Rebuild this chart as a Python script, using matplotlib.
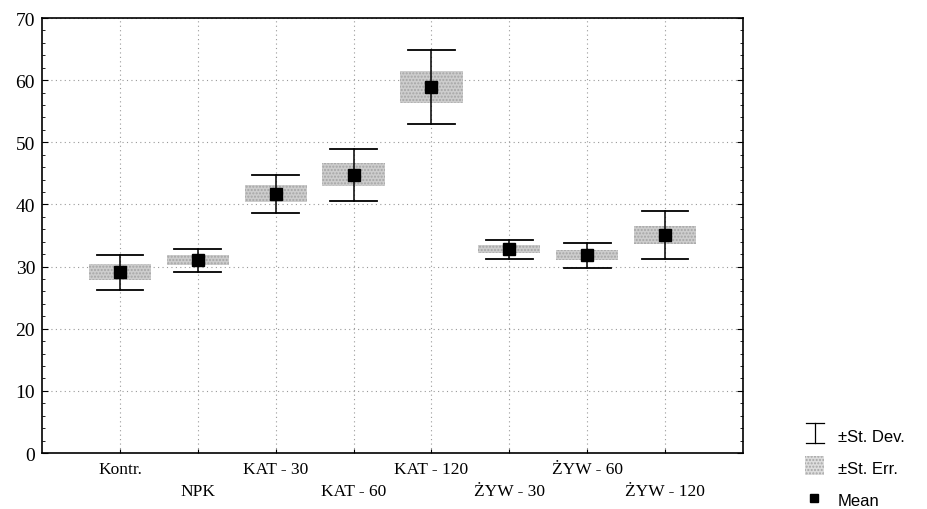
import matplotlib
matplotlib.use("Agg")
import matplotlib.pyplot as plt
from matplotlib.patches import Rectangle
from matplotlib.ticker import MultipleLocator

# group labels and values
groups = ["Kontr.", "NPK", "KAT - 30", "KAT - 60", "KAT - 120",
          "ŻYW - 30", "ŻYW - 60", "ŻYW - 120"]
means = [29.1, 31.0, 41.7, 44.8, 58.9, 32.8, 31.8, 35.1]
st_err = [1.3, 0.8, 1.35, 1.9, 2.6, 0.6, 0.8, 1.5]
st_dev = [2.8, 1.8, 3.0, 4.2, 6.0, 1.5, 2.0, 3.9]

serif = "Liberation Serif"
sans = "Liberation Sans"

fig = plt.figure(figsize=(9.28, 5.10), dpi=100)
ax = fig.add_axes([0.0453, 0.1098, 0.7553, 0.8529])

box_fc = "#cdcdcd"
box_hatch = "#a5a5a5"

for i, (m, se, sd) in enumerate(zip(means, st_err, st_dev)):
    x = i + 1
    # +-St. Err. box
    ax.add_patch(Rectangle((x - 0.4, m - se), 0.8, 2 * se, facecolor=box_fc,
                           edgecolor=box_hatch, hatch=".....", linewidth=0, zorder=2))
    # +-St. Dev. whiskers
    ax.plot([x, x], [m - sd, m + sd], color="black", lw=1.1, zorder=3)
    ax.plot([x - 0.3, x + 0.3], [m + sd, m + sd], color="black", lw=1.3, zorder=3)
    ax.plot([x - 0.3, x + 0.3], [m - sd, m - sd], color="black", lw=1.3, zorder=3)

ax.plot(range(1, len(means) + 1), means, linestyle="none", marker="s",
        markersize=8, color="black", zorder=4)

ax.set_xlim(0, 9)
ax.set_ylim(0, 70)
ax.yaxis.set_major_locator(MultipleLocator(10))
ax.yaxis.set_minor_locator(MultipleLocator(2))
ax.set_xticks(range(1, len(groups) + 1))
ax.set_xticklabels([g if i % 2 == 0 else "\n" + g for i, g in enumerate(groups)],
                   fontfamily=serif, fontsize=12.5, linespacing=1.45)
for lab in ax.get_yticklabels():
    lab.set_fontfamily(serif)
    lab.set_fontsize(14)
ax.tick_params(axis="both", which="both", direction="in", right=True, top=False)
ax.tick_params(axis="y", which="major", length=4, pad=5)
ax.tick_params(axis="y", which="minor", length=2)
ax.tick_params(axis="x", length=3, pad=6)
ax.grid(True, which="major", linestyle=(0, (1, 3)), color="#999999", lw=0.8)
ax.set_axisbelow(True)
for s in ax.spines.values():
    s.set_linewidth(1.2)

# legend drawn in figure pixel coordinates
lg = fig.add_axes([0, 0, 1, 1])
lg.set_xlim(0, 928)
lg.set_ylim(510, 0)
lg.axis("off")
lg.plot([815, 815], [424, 444], color="black", lw=0.9)
lg.plot([806, 824], [424, 424], color="black", lw=0.9)
lg.plot([806, 824], [444, 444], color="black", lw=0.9)
lg.add_patch(Rectangle((805, 457), 19, 19, facecolor="#dddddd", edgecolor=box_hatch,
                       hatch=".....", linewidth=0))
lg.plot([814], [499], marker="s", markersize=6, color="black")
for ty, txt in [(438, "±St. Dev."), (470, "±St. Err."), (502, "Mean")]:
    lg.text(838, ty, txt, fontfamily=sans, fontsize=12, va="center", ha="left")

fig.savefig("out.png", dpi=100)
